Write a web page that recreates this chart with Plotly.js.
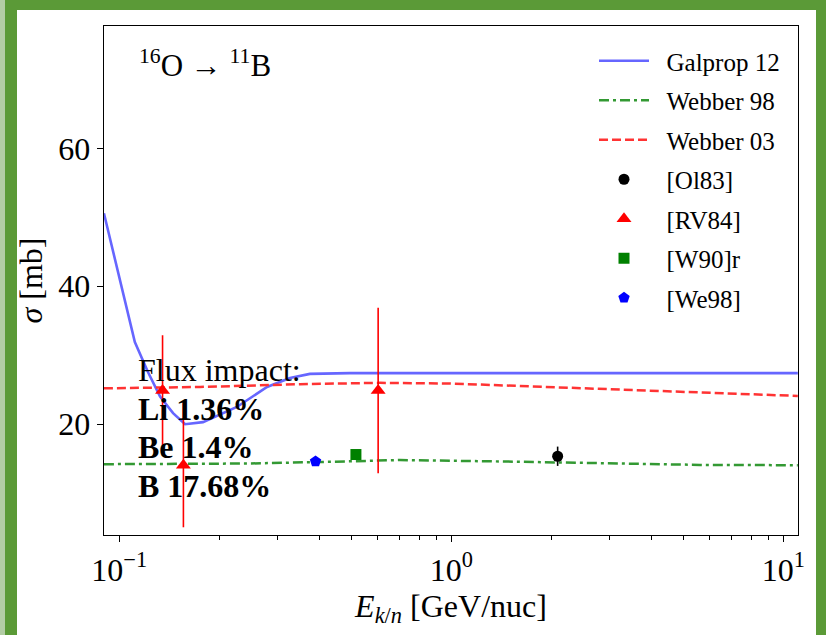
<!DOCTYPE html>
<html>
<head>
<meta charset="utf-8">
<script src="https://cdn.plot.ly/plotly-3.0.1.min.js"></script>
<style>
  html, body { margin: 0; padding: 0; width: 826px; height: 635px; overflow: hidden; background: #5b9a37; }
  #strip { position: absolute; left: 0; top: 0; width: 5px; height: 635px; background: #b3cda5; }
  #paper { position: absolute; left: 17px; top: 10px; width: 799px; height: 625px; background: #ffffff; }
  #chart { position: absolute; left: 0; top: 0; width: 826px; height: 635px; }
  #chart .legendtext { font-family: 'Liberation Serif', serif !important; }
</style>
</head>
<body>
<div id="strip"></div>
<div id="paper"></div>
<div id="chart"></div>
<script>
// ---- data ----
const galpropE = [0.0899, 0.0991, 0.1114, 0.1219, 0.1327, 0.1452, 0.1578, 0.1787, 0.226, 0.2786, 0.3266, 0.375, 0.495, 1.0, 3.0, 11.05];
const galpropS = [50.6, 41.9, 31.9, 27.6, 24.0, 21.6, 20.0, 20.3, 22.5, 25.4, 26.7, 27.3, 27.4, 27.4, 27.4, 27.4];

const webber98E = [0.0899, 0.247, 0.430, 0.70, 1.40, 2.80, 5.6, 11.05];
const webber98S = [14.2, 14.3, 14.55, 14.8, 14.6, 14.3, 14.1, 14.05];

const webber03E = [0.0899, 0.175, 0.35, 0.61, 0.99, 1.98, 3.96, 11.05];
const webber03S = [25.2, 25.4, 25.8, 26.0, 25.9, 25.4, 24.8, 24.1];

const ol83E = [2.09];
const ol83S = [15.35];
const ol83Err = [1.4];

const rv84E = [0.135, 0.156, 0.602];
const rv84S = [24.9, 14.05, 24.9];
const rv84Err = [8.0, 9.0, 12.0];

const w90E = [0.516];
const w90S = [15.6];

const we98E = [0.390];
const we98S = [14.6];

const seriesNames = ['Galprop 12', 'Webber 98', 'Webber 03', '[Ol83]', '[RV84]', '[W90]r', '[We98]'];

const xTickVals = [0.1, 1, 10];
const xTickText = ['10<sup>−1</sup>', '10<sup>0</sup>', '10<sup>1</sup>'];
const xMinorVals = [0.2,0.3,0.4,0.5,0.6,0.7,0.8,0.9,2,3,4,5,6,7,8,9];
const yTickVals = [20, 40, 60];

const reactionLabel = '<sup>16</sup>O → <sup>11</sup>B';
const fluxLines = ['Flux impact:', '<b>Li 1.36%</b>', '<b>Be 1.4%</b>', '<b>B 17.68%</b>'];

// ---- traces ----
const FONT = "'Liberation Serif', serif";
function legName(s) { return '\u00A0\u00A0' + s; }
const traces = [
  {x: galpropE, y: galpropS, name: legName(seriesNames[0]), mode: 'lines', legendgroup: 'a',
   line: {color: '#6666ff', width: 2.6}},
  {x: webber98E, y: webber98S, name: legName(seriesNames[1]), mode: 'lines', legendgroup: 'b',
   line: {color: '#339933', width: 2.5, dash: '10px,4px,3px,4px'}},
  {x: webber03E, y: webber03S, name: legName(seriesNames[2]), mode: 'lines', legendgroup: 'c',
   line: {color: '#ff3333', width: 2.5, dash: '9px,4px'}},
  {x: ol83E, y: ol83S, name: legName(seriesNames[3]), mode: 'markers', legendgroup: 'd',
   marker: {color: '#000000', size: 11, symbol: 'circle'},
   error_y: {type: 'data', array: ol83Err, color: '#000000', thickness: 1.6, width: 0}},
  {x: rv84E, y: rv84S, name: legName(seriesNames[4]), mode: 'markers', legendgroup: 'e',
   marker: {color: '#ff0000', size: 13, symbol: 'triangle-up'},
   error_y: {type: 'data', array: rv84Err, color: '#ff0000', thickness: 1.6, width: 0}},
  {x: w90E, y: w90S, name: legName(seriesNames[5]), mode: 'markers', legendgroup: 'f',
   marker: {color: '#008000', size: 11, symbol: 'square'}},
  {x: we98E, y: we98S, name: legName(seriesNames[6]), mode: 'markers', legendgroup: 'g',
   marker: {color: '#0000ff', size: 12, symbol: 'pentagon'}}
];

const plotL = 104, plotR = 798, plotT = 26, plotB = 535;
const W = 826, H = 635;
function py(pix) { return (plotB - pix) / (plotB - plotT); }
function px(pix) { return (pix - plotL) / (plotR - plotL); }

const annotations = [
  {text: reactionLabel, xref: 'paper', yref: 'paper', x: px(137), y: py(64), xanchor: 'left', yanchor: 'middle',
   showarrow: false, font: {family: FONT, size: 31, color: '#000'}}
];
const fluxY = [370, 409, 447, 486];
fluxLines.forEach((t, i) => {
  annotations.push({text: t, xref: 'paper', yref: 'paper', x: px(136), y: py(fluxY[i]), xanchor: 'left', yanchor: 'middle',
    showarrow: false, font: {family: FONT, size: 32, color: '#000'}});
});

const layout = {
  width: W, height: H,
  margin: {l: plotL, r: W - plotR, t: plotT, b: H - plotB, pad: 0},
  paper_bgcolor: 'rgba(0,0,0,0)',
  plot_bgcolor: '#ffffff',
  font: {family: FONT, color: '#000', size: 32},
  showlegend: true,
  legend: {x: px(594), y: py(38), xanchor: 'left', yanchor: 'top', bgcolor: 'rgba(255,255,255,0)',
           font: {family: FONT, size: 25, color: '#000'}, traceorder: 'grouped', tracegroupgap: 4,
           itemwidth: 50},
  xaxis: {type: 'log', range: [-1.046, 1.044], tickvals: xTickVals, ticktext: xTickText,
          ticks: 'outside', ticklen: 6, tickwidth: 1.2, tickcolor: '#000',
          minor: {tickvals: xMinorVals, ticks: 'outside', ticklen: 3.5, tickwidth: 1, tickcolor: '#000'},
          showline: true, linecolor: '#000', linewidth: 1.3, mirror: true, showgrid: false, zeroline: false,
          tickfont: {family: FONT, size: 32},
          title: {text: '<i>E</i><sub><i>k</i>/<i>n</i></sub> [GeV/nuc]', font: {family: FONT, size: 32}, standoff: 6}},
  yaxis: {range: [3.93, 77.75], tickvals: yTickVals, ticks: 'outside', ticklen: 6, tickwidth: 1.2, tickcolor: '#000',
          showline: true, linecolor: '#000', linewidth: 1.3, mirror: true, showgrid: false, zeroline: false,
          tickfont: {family: FONT, size: 32},
          title: {text: '<i>σ</i> [mb]', font: {family: FONT, size: 32}, standoff: 6}},
  annotations: annotations
};

Plotly.newPlot('chart', traces, layout, {displayModeBar: false, staticPlot: true});
</script>
</body>
</html>
